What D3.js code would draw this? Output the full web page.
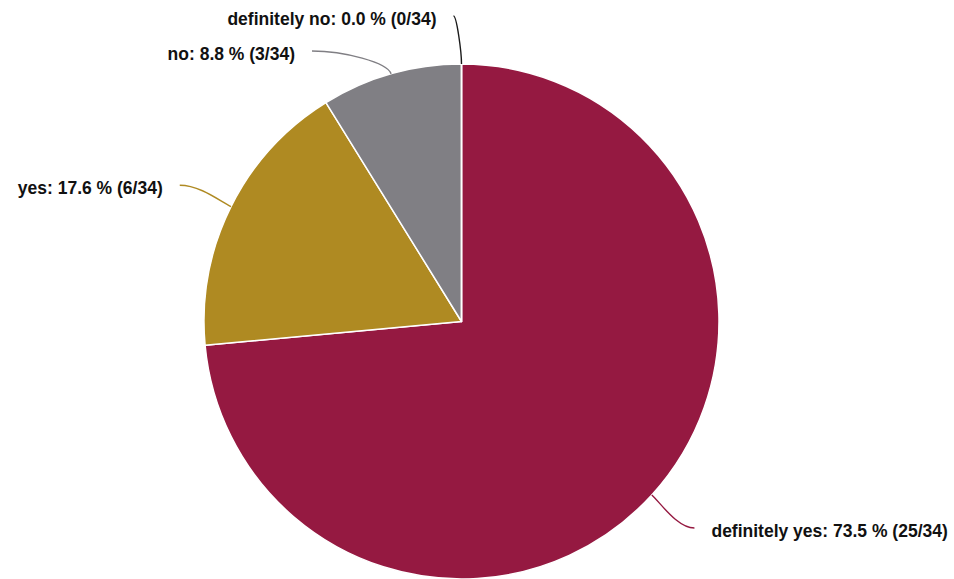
<!DOCTYPE html>
<html><head><meta charset="utf-8">
<script src="https://cdn.jsdelivr.net/npm/d3@7/dist/d3.min.js"></script>
<style>html,body{margin:0;padding:0;background:#fff;}svg{display:block;}</style>
</head><body>
<svg id="chart" width="954" height="579"></svg>
<script>
const categories = ["definitely yes", "yes", "no", "definitely no"];
const counts = [25, 6, 3, 0];
const total = 34;
const colors = ["#951941", "#af8a22", "#807f84", "#1a1a1a"];
// label layout: connector end point offsets relative to the default label anchor (collision shifts)
const labelShift = [[2, -4], [-2, 3], [-64, 30], [-8, 7]];

const W = 954, H = 579;
const cx = 461.5, cy = 321.5, r = 257.5;
const svg = d3.select("#chart");
const g = svg.append("g").attr("transform", `translate(${cx},${cy})`);

const data = categories.map((c, i) => ({name: c, value: counts[i], color: colors[i], i}));
const pie = d3.pie().value(d => d.value).sort(null).startAngle(0).endAngle(2 * Math.PI);
const arcs = pie(data);
const arc = d3.arc().innerRadius(0).outerRadius(r);

g.selectAll("path.slice").data(arcs).join("path")
  .attr("class", "slice")
  .attr("d", arc)
  .attr("fill", d => d.data.color)
  .attr("stroke", "#fff")
  .attr("stroke-width", 1.5)
  .attr("stroke-linejoin", "round");

function pt(a, rad) { return [rad * Math.sin(a), -rad * Math.cos(a)]; }

const fmt = d3.format(".1f");
arcs.forEach((d, k) => {
  const a = (d.startAngle + d.endAngle) / 2;
  const E = pt(a, r);
  const C2 = pt(a, r + 12);
  const L0 = pt(a, r + 55);
  const L = [L0[0] + labelShift[k][0], L0[1] + labelShift[k][1]];
  const right = Math.sin(a) > 0.0001;
  const dir = right ? -1 : 1;
  const C1 = [L[0] + dir * Math.abs(E[0] - L[0]) * 0.4, L[1]];
  const path = d3.path();
  path.moveTo(L[0], L[1]);
  path.bezierCurveTo(C1[0], C1[1], C2[0], C2[1], E[0], E[1]);
  g.append("path").attr("d", path.toString())
    .attr("fill", "none")
    .attr("stroke", d.data.color)
    .attr("stroke-width", 1.4);
  const pct = fmt(d.data.value / total * 100);
  g.append("text")
    .attr("x", right ? L[0] + 17 : L[0] - 17)
    .attr("y", L[1] + 4)
    .attr("dominant-baseline", "middle")
    .attr("text-anchor", right ? "start" : "end")
    .attr("font-family", "'Liberation Sans', Arial, Helvetica, sans-serif")
    .attr("font-weight", "bold")
    .attr("font-size", 17.5)
    .attr("fill", "#111")
    .text(`${d.data.name}: ${pct} % (${d.data.value}/${total})`);
});
</script>
</body></html>
